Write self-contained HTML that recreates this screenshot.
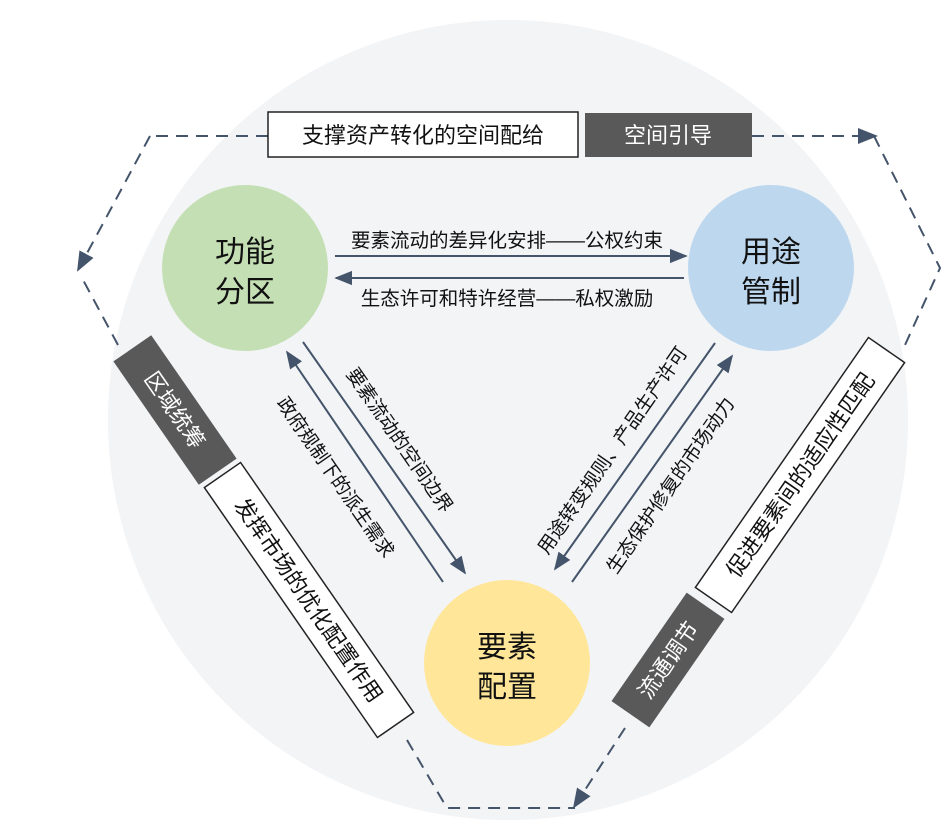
<!DOCTYPE html>
<html><head><meta charset="utf-8"><style>
html,body{margin:0;padding:0;background:#fff;}
svg{display:block;}
text{font-family:"Liberation Sans","Noto Sans CJK SC",sans-serif;}
</style></head><body>
<svg width="951" height="837" viewBox="0 0 951 837" xmlns="http://www.w3.org/2000/svg">
<defs>
<marker id="b" viewBox="0 0 10 10" refX="9" refY="5" markerWidth="18" markerHeight="18" orient="auto" markerUnits="userSpaceOnUse">
<path d="M0,1 L10,5 L0,9 z" fill="#44546a"/></marker>
<marker id="c" viewBox="0 0 10 10" refX="9" refY="5" markerWidth="20" markerHeight="20" orient="auto" markerUnits="userSpaceOnUse">
<path d="M0,1 L10,5 L0,9 z" fill="#44546a"/></marker>
</defs>
<circle cx="508" cy="420" r="400" fill="#f3f4f6"/>

<g stroke="#44546a" stroke-width="2" fill="none" stroke-dasharray="12,8">
<line x1="268" y1="136" x2="150" y2="136"/>
<polyline points="150,136 78,270" marker-end="url(#c)"/>
<line x1="118" y1="345" x2="82" y2="278"/>
<line x1="752" y1="136" x2="876" y2="136" marker-end="url(#c)"/>
<polyline points="874,136 940,268 905,345"/>
<polyline points="407,740 447,808 575,808"/>
<line x1="625" y1="728" x2="574" y2="807" marker-end="url(#c)"/>
</g>

<rect x="268" y="112" width="310" height="45" fill="#fff" stroke="#222" stroke-width="1.5"/>
<text x="423" y="143" font-size="22" text-anchor="middle" fill="#111">支撑资产转化的空间配给</text>
<rect x="585" y="113" width="167" height="44" fill="#595959"/>
<text x="668" y="143" font-size="22" text-anchor="middle" fill="#fff">空间引导</text>

<g transform="translate(175,410) rotate(55.3)">
<rect x="-75" y="-23" width="150" height="46" fill="#595959"/>
<text x="0" y="8" font-size="22" text-anchor="middle" fill="#fff">区域统筹</text>
</g>
<g transform="translate(309,600) rotate(55.3)">
<rect x="-152" y="-22" width="304" height="44" fill="#fff" stroke="#222" stroke-width="1.5"/>
<text x="0" y="8" font-size="22" text-anchor="middle" fill="#111">发挥市场的优化配置作用</text>
</g>
<g transform="translate(800,475) rotate(-55.3)">
<rect x="-152" y="-22" width="304" height="44" fill="#fff" stroke="#222" stroke-width="1.5"/>
<text x="0" y="8" font-size="22" text-anchor="middle" fill="#111">促进要素间的适应性匹配</text>
</g>
<g transform="translate(668,660) rotate(-55.3)">
<rect x="-66" y="-23" width="132" height="46" fill="#595959"/>
<text x="0" y="8" font-size="22" text-anchor="middle" fill="#fff">流通调节</text>
</g>

<circle cx="245" cy="268" r="83" fill="#c5dfb4"/>
<text x="245" y="262" font-size="30" text-anchor="middle" fill="#111">功能</text>
<text x="245" y="302" font-size="30" text-anchor="middle" fill="#111">分区</text>
<circle cx="771" cy="268" r="83" fill="#bdd7ee"/>
<text x="771" y="262" font-size="30" text-anchor="middle" fill="#111">用途</text>
<text x="771" y="302" font-size="30" text-anchor="middle" fill="#111">管制</text>
<circle cx="507" cy="663" r="83" fill="#ffe699"/>
<text x="507" y="657" font-size="30" text-anchor="middle" fill="#111">要素</text>
<text x="507" y="697" font-size="30" text-anchor="middle" fill="#111">配置</text>

<g stroke="#44546a" stroke-width="2" fill="none">
<line x1="335" y1="256" x2="686" y2="256" marker-end="url(#b)"/>
<line x1="684" y1="278" x2="336" y2="278" marker-end="url(#b)"/>
<line x1="443" y1="582" x2="287" y2="352" marker-end="url(#b)"/>
<line x1="303" y1="342" x2="465" y2="573" marker-end="url(#b)"/>
<line x1="715" y1="343" x2="555" y2="569" marker-end="url(#b)"/>
<line x1="572" y1="582" x2="732" y2="356" marker-end="url(#b)"/>
</g>
<text x="507" y="247" font-size="19.5" text-anchor="middle" fill="#111">要素流动的差异化安排——公权约束</text>
<text x="507" y="305" font-size="19.5" text-anchor="middle" fill="#111">生态许可和特许经营——私权激励</text>
<text transform="translate(400,440) rotate(55.3)" x="0" y="7" font-size="19" text-anchor="middle" fill="#111">要素流动的空间边界</text>
<text transform="translate(336,477) rotate(55.3)" x="0" y="7" font-size="19" text-anchor="middle" fill="#111">政府规制下的派生需求</text>
<text transform="translate(612,450) rotate(-55.3)" x="0" y="7" font-size="19" text-anchor="middle" fill="#111">用途转变规则、产品生产许可</text>
<text transform="translate(670,485) rotate(-55.3)" x="0" y="7" font-size="19" text-anchor="middle" fill="#111">生态保护修复的市场动力</text>
</svg>
</body></html>
